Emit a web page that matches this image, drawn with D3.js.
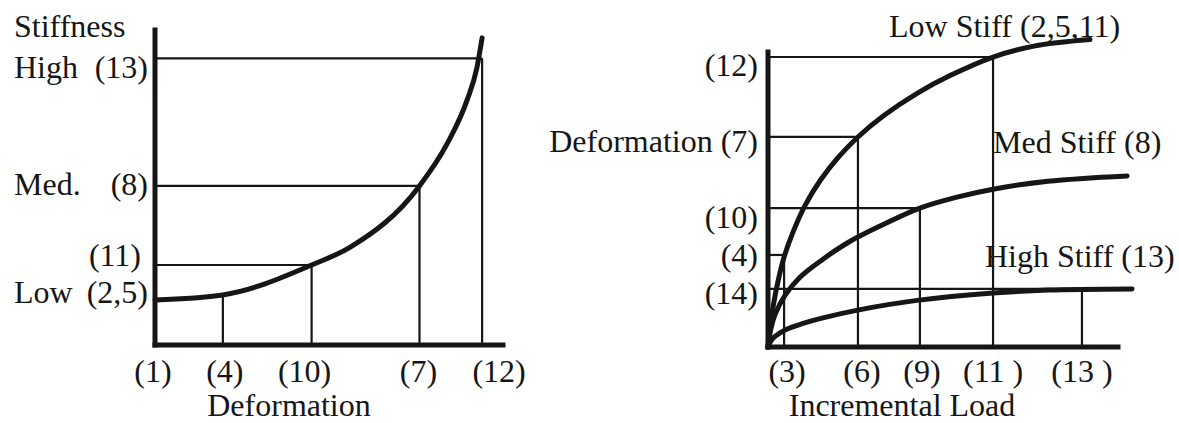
<!DOCTYPE html>
<html>
<head>
<meta charset="utf-8">
<script src="https://cdn.jsdelivr.net/npm/d3@7"></script>
<style>
    body { margin: 0; background: #fff; }
    svg text { font-family: "Liberation Serif", "Times New Roman", serif; font-size: 32px; fill: #161616; }
    .axis { stroke: #161616; stroke-width: 5; stroke-linecap: square; }
    .guide { stroke: #161616; stroke-width: 2.2; }
    .curve { fill: none; stroke: #161616; stroke-width: 5; stroke-linecap: round; }
</style>
</head>
<body>
<div id="chart"></div>
<script>
// ---- left panel: stiffness vs deformation ----
const stiffLevels = ["High  (13)", "Med.   (8)", "(11)", "Low  (2,5)"];
const stiffValues = [91, 50.5, 25.4, 14.3];
const stiffReach = [94, 76, 45, null];          // where the horizontal guide meets the curve

const deformLabels = ["(1)", "(4)", "(10)", "(7)", "(12)"];
const deformValues = [0, 19.5, 45, 76, 94];
const deformTop = [null, 15.9, 25.4, 50.5, 91];  // where the vertical guide meets the curve

const stiffCurve = [[0, 14.3], [19.5, 15.9], [45, 25.4], [56, 31], [76, 50.5], [84, 64], [89.7, 77.8], [92.5, 88], [94, 97.5]];

// ---- right panel: deformation vs incremental load ----
const rDeformLabels = ["(12)", "Deformation (7)", "(10)", "(4)", "(14)"];
const rDeformValues = [98.3, 71.2, 47.1, 31.2, 19.7];
const rDeformReach = [64.3, 25.7, 43.4, 4.6, 104];

const loadLabels = ["(3)", "(6)", "(9)", "(11 )", "(13 )"];
const loadValues = [4.6, 25.7, 43.4, 64.3, 89.7];
const loadTop = [31.2, 71.2, 47.1, 98.3, 19.7];

const lowStiff = [[0, 0], [0.5, 6], [1.5, 14], [3, 23], [4.6, 30.5], [7, 38.5], [10.6, 48], [15, 56.6], [20, 64.2], [25.7, 71.2], [33, 78.4], [42.6, 86], [52, 92], [64.3, 98.3], [76, 102], [92, 104.2]];
const medStiff = [[0, 0], [0.8, 6], [2, 11], [4.9, 17.6], [9, 23.5], [15.4, 29.5], [23, 35.5], [32, 41], [43.4, 47.1], [54, 50.8], [64.3, 53.5], [80, 56.2], [102.6, 58]];
const highStiff = [[0, 0], [0.8, 2], [2, 3.6], [4.9, 5.8], [10, 8], [15.4, 9.8], [26, 12.6], [42.6, 15.8], [64.3, 18.3], [80, 19.3], [104, 19.7]];
const curveNames = ["Low Stiff (2,5,11)", "Med Stiff (8)", "High Stiff (13)"];

const width = 1179, height = 423;

let svg = d3.select("#chart").append("svg")
    .attr("width", width)
    .attr("height", height);

// scales
let lx = d3.scaleLinear().domain([0, 100]).range([155, 503]);
let ly = d3.scaleLinear().domain([0, 100]).range([345, 30]);
let rx = d3.scaleLinear().domain([0, 100]).range([768, 1118]);
let ry = d3.scaleLinear().domain([0, 100]).range([347, 52]);

let line = (xs, ys, c) => d3.line().x(d => xs(d[0])).y(d => ys(d[1])).curve(c);

/* ---------- left ---------- */
let left = svg.append("g");

// guides
stiffValues.forEach((v, i) => {
    if (stiffReach[i] === null) return;
    left.append("line").attr("class", "guide")
        .attr("x1", lx(0)).attr("x2", lx(stiffReach[i]))
        .attr("y1", ly(v)).attr("y2", ly(v));
});
deformValues.forEach((v, i) => {
    if (deformTop[i] === null) return;
    left.append("line").attr("class", "guide")
        .attr("x1", lx(v)).attr("x2", lx(v))
        .attr("y1", ly(0)).attr("y2", ly(deformTop[i]));
});

left.append("path").datum(stiffCurve).attr("class", "curve").attr("d", line(lx, ly, d3.curveMonotoneX));

// axes
left.append("line").attr("class", "axis").attr("x1", lx(0)).attr("x2", lx(0)).attr("y1", ly(0)).attr("y2", ly(100));
left.append("line").attr("class", "axis").attr("x1", lx(0)).attr("x2", lx(100)).attr("y1", ly(0)).attr("y2", ly(0));

// y labels
let stiffDy = [-20, -9, -1, -3];
left.append("text").attr("x", 14).attr("y", 37).text("Stiffness");
stiffLevels.forEach((t, i) => {
    let y = ly(stiffValues[i]) - stiffDy[i];
    let parts = t.split(/\s+(?=\()/);
    if (parts.length > 1) {
        left.append("text").attr("x", 14).attr("y", y).text(parts[0]);
        left.append("text").attr("x", 148).attr("y", y).attr("text-anchor", "end").text(parts[1]);
    } else {
        left.append("text").attr("x", 141).attr("y", y).attr("text-anchor", "end").text(t);
    }
});

// x labels
let deformDx = [-2, 2, -7, -1, 17];
deformLabels.forEach((t, i) => {
    left.append("text").attr("x", lx(deformValues[i]) + deformDx[i]).attr("y", 382)
        .attr("text-anchor", "middle").text(t);
});
left.append("text").attr("x", 289).attr("y", 416).attr("text-anchor", "middle").text("Deformation");

/* ---------- right ---------- */
let right = svg.append("g");

rDeformValues.forEach((v, i) => {
    right.append("line").attr("class", "guide")
        .attr("x1", rx(0)).attr("x2", rx(rDeformReach[i]))
        .attr("y1", ry(v)).attr("y2", ry(v));
});
loadValues.forEach((v, i) => {
    right.append("line").attr("class", "guide")
        .attr("x1", rx(v)).attr("x2", rx(v))
        .attr("y1", ry(0)).attr("y2", ry(loadTop[i]));
});

[lowStiff, medStiff, highStiff].forEach(c => {
    right.append("path").datum(c).attr("class", "curve").attr("d", line(rx, ry, d3.curveCatmullRom.alpha(0.5)));
});

right.append("line").attr("class", "axis").attr("x1", rx(0)).attr("x2", rx(0)).attr("y1", ry(0)).attr("y2", ry(100));
right.append("line").attr("class", "axis").attr("x1", rx(0)).attr("x2", rx(100)).attr("y1", ry(0)).attr("y2", ry(0));

let rDy = [-19, -15, -20, -11, -15];
rDeformLabels.forEach((t, i) => {
    right.append("text").attr("x", 758).attr("y", ry(rDeformValues[i]) - rDy[i])
        .attr("text-anchor", "end").text(t);
});

let loadDx = [3, 4, 2, 0, 0];
loadLabels.forEach((t, i) => {
    right.append("text").attr("x", rx(loadValues[i]) + loadDx[i]).attr("y", 382)
        .attr("text-anchor", "middle").text(t);
});
right.append("text").attr("x", 902).attr("y", 416).attr("text-anchor", "middle").text("Incremental Load");

// curve names
let namePos = [[889, 37], [993, 153], [985, 267]];
curveNames.forEach((t, i) => {
    right.append("text").attr("x", namePos[i][0]).attr("y", namePos[i][1]).text(t);
});
</script>
</body>
</html>
